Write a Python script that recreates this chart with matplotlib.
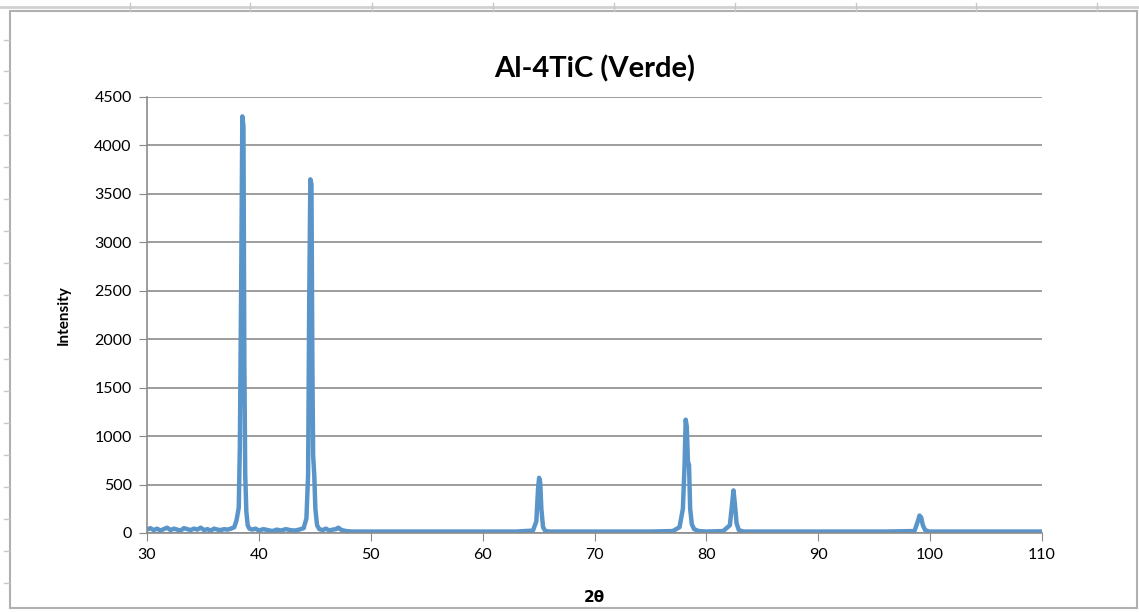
import matplotlib.pyplot as plt
from matplotlib.patches import Rectangle
from matplotlib.lines import Line2D

# 2theta (deg) and intensity
two_theta = [30.0, 30.3, 30.6, 30.9, 31.2, 31.5, 31.8, 32.1, 32.4, 32.7, 33.0, 33.3, 33.6,
             33.9, 34.2, 34.5, 34.8, 35.1, 35.4, 35.7, 36.0, 36.3, 36.6, 36.9, 37.2, 37.5,
             37.8, 38.0, 38.2, 38.3, 38.42, 38.52, 38.62, 38.7, 38.78, 38.88, 39.0, 39.15,
             39.4, 39.7, 40.0, 40.4, 40.8, 41.2, 41.6, 42.0, 42.4, 42.8, 43.2, 43.6, 44.0,
             44.25, 44.4, 44.5, 44.6, 44.7, 44.78, 44.85, 44.95, 45.05, 45.2, 45.4, 45.7,
             46.0, 46.3, 46.6, 46.9, 47.1, 47.4, 47.8, 48.3, 49.0, 50.0, 52.0, 55.0, 58.0,
             61.0, 63.0, 64.5, 64.8, 64.95, 65.05, 65.15, 65.25, 65.4, 65.6, 66.0, 68.0,
             72.0, 75.0, 77.0, 77.6, 77.9, 78.05, 78.15, 78.25, 78.35, 78.45, 78.55, 78.7,
             78.9, 79.3, 80.0, 81.5, 82.1, 82.3, 82.42, 82.55, 82.7, 82.9, 83.3, 85.0,
             88.0, 92.0, 96.0, 98.6, 98.9, 99.05, 99.2, 99.35, 99.55, 99.9, 102.0, 106.0,
             110.0]
intensity = [35, 50, 30, 45, 25, 40, 55, 30, 45, 35, 25, 50, 40, 30, 45, 35, 55, 30, 40,
             25, 45, 35, 30, 40, 35, 45,
             60, 130, 260, 900, 2600, 4300, 4200, 1800, 600, 220, 80, 45,
             35, 45, 25, 40, 30, 20, 35, 25, 40, 30, 25, 35, 50,
             150, 600, 2400, 3650, 3600, 1800, 800, 600, 250, 80, 40, 30,
             45, 25, 35, 40, 55, 30, 20, 15, 15, 15, 15, 15, 15,
             15, 15, 25, 120, 450, 570, 520, 250, 60, 20, 15, 15,
             15, 15, 20, 60, 250, 700, 1170, 1100, 740, 700, 250, 90,
             40, 20, 15, 20, 80, 300, 440, 300, 100, 30, 15, 15,
             15, 15, 15, 20, 120, 180, 160, 80, 30, 15, 15, 15,
             15]

x_ticks = [30, 40, 50, 60, 70, 80, 90, 100, 110]
y_ticks = [0, 500, 1000, 1500, 2000, 2500, 3000, 3500, 4000, 4500]

plt.rcParams['font.family'] = ['Lato', 'DejaVu Sans']

fig = plt.figure(figsize=(11.39, 6.12), dpi=100)
ax = fig.add_axes([147/1139, 1 - 533/612, (1042-147)/1139, (533-97)/612])

ax.plot(two_theta, intensity, color='#5a95ca', lw=3.2, solid_joinstyle='round')

ax.set_xlim(30, 110)
ax.set_ylim(0, 4500)
ax.set_xticks(x_ticks)
ax.set_yticks(y_ticks)
ax.tick_params(axis='both', direction='out', length=6, color='#888888', labelsize=11.5, pad=5)
ax.grid(axis='y', color='#8c8c8c', lw=1.2)
ax.set_axisbelow(True)
for s in ['top', 'right']:
    ax.spines[s].set_visible(False)
for s in ['left', 'bottom']:
    ax.spines[s].set_color('#8c8c8c')
    ax.spines[s].set_linewidth(1.2)

ax.set_title('Al-4TiC (Verde)', fontsize=21, fontweight='bold', pad=14)
ax.set_xlabel('2θ', fontsize=11, fontweight='bold', labelpad=20, family=['DejaVu Sans'])
ax.set_ylabel('Intensity', fontsize=11, fontweight='bold', labelpad=17)

# chart frame and spreadsheet lines around it
fig.patches.append(Rectangle((10/1139, 1 - 608/612), 1127/1139, 597/612, transform=fig.transFigure,
                             fill=False, ec='#b0b0b0', lw=1.5))
fig.lines.append(Line2D([0, 1], [1 - 7/612, 1 - 7/612], transform=fig.transFigure, color='#d0d0d0', lw=2))
for px in [130, 250, 372, 493, 614, 735, 856, 976, 1097]:
    fig.lines.append(Line2D([px/1139, px/1139], [1 - 3/612, 1 - 11/612], transform=fig.transFigure,
                            color='#c8c8c8', lw=1))
for py in [40, 71, 103, 135, 167, 199, 231, 263, 295, 327, 359, 391, 423, 455, 487, 519, 551, 583]:
    fig.lines.append(Line2D([4/1139, 9/1139], [1 - py/612, 1 - py/612], transform=fig.transFigure,
                            color='#c8c8c8', lw=1))

fig.savefig('out.png', dpi=100)
plt.close()
